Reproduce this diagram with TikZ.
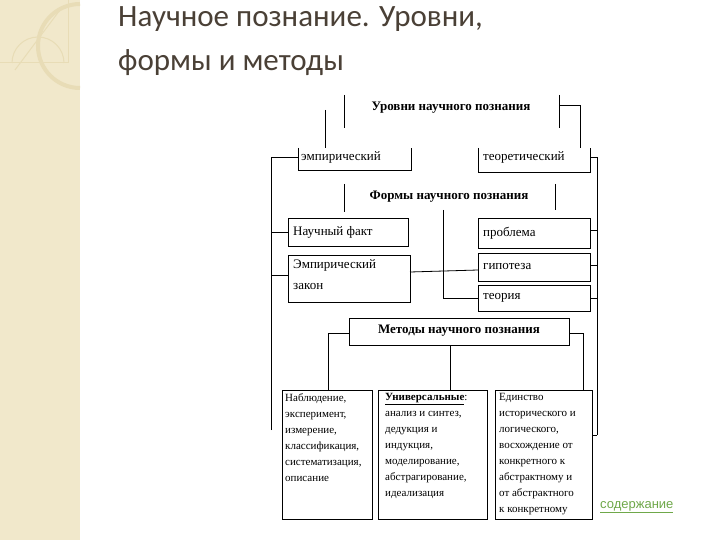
\documentclass[tikz,border=0pt]{standalone}
\usepackage{fontspec}
\setmainfont{Liberation Serif}
\newfontfamily\titlefont{Carlito}
\newfontfamily\linkfont{Liberation Sans}
\definecolor{band}{HTML}{F1E8CB}
\definecolor{bandline}{HTML}{E8DCB6}
\definecolor{titlec}{HTML}{4A4036}
\definecolor{linkc}{HTML}{6FA84A}
\begin{document}
\begin{tikzpicture}[x=1pt,y=-1pt,
  bx/.style={draw,line width=0.8pt,anchor=north west,inner sep=0pt},
  ln/.style={line width=0.8pt},
  txt/.style={font=\fontsize{13}{15}\selectfont,anchor=west,inner sep=0pt},
  btxt/.style={font=\fontsize{13}{15}\selectfont\bfseries,anchor=center,inner sep=0pt},
  small/.style={font=\fontsize{11}{16}\selectfont,anchor=north west,align=left,inner sep=0pt}]
\useasboundingbox (0,0) rectangle (720,540);
\fill[white] (0,0) rectangle (720,540);
\fill[band] (0,0) rectangle (80,540);
\draw[bandline,line width=1pt] (0,63) -- (68,63) -- (68,0);
\draw[bandline,line width=1pt] (12,63) arc[start angle=180,end angle=360,radius=26] ;
\draw[bandline,line width=4pt] (80,88) arc[start angle=90,end angle=270,radius=42];
\draw[bandline,line width=1pt] (15,70) -- (60,10);
% title
\node[font=\titlefont\fontsize{31}{44}\selectfont,text=titlec,anchor=north west,align=left,inner sep=0pt] (title) at (118,6) {Научное познание. Уровни,\\формы и методы};
% headings
\node[btxt] (lev) at (451,108) {Уровни научного познания};
\draw[ln] (344,95) -- (344,128) (559,95) -- (559,128);
\node[btxt] (form) at (449,197) {Формы научного познания};
\draw[ln] (344,184) -- (344,212) (555,184) -- (555,210);
% level boxes
\draw[ln] (298,148) -- (298,170) -- (411,170) -- (411,148);
\node[txt] (emp) at (301,157) {эмпирический};
\draw[ln] (478,148) -- (478,172) -- (590,172) -- (590,148);
\node[txt] (teo) at (483,157) {теоретический};
% forms boxes
\node[bx,minimum width=120,minimum height=28] (fact) at (288,218) {};
\node[txt] at (293,232) {Научный факт};
\node[bx,minimum width=122,minimum height=47] (law) at (288,255) {};
\node[small,font=\fontsize{13}{21}\selectfont] at (293,259) {Эмпирический\\закон};
\node[bx,minimum width=112,minimum height=30] (prob) at (478,218) {};
\node[txt] at (483,233) {проблема};
\node[bx,minimum width=112,minimum height=28] (hyp) at (478,253) {};
\node[txt] at (483,266) {гипотеза};
\node[bx,minimum width=112,minimum height=26] (theo) at (478,285) {};
\node[txt] at (483,298) {теория};
% connectors
\draw[ln] (325,110) -- (325,148);
\draw[ln] (559,105) -- (580,105) -- (580,148);
\draw[ln] (271,430) -- (271,157) -- (298,157);
\draw[ln] (271,232) -- (288,232) (271,275) -- (288,275);
\draw[ln] (590,157) -- (597,157) -- (597,435);
\draw[ln] (590,230) -- (597,230) (590,265) -- (597,265) (590,298) -- (597,298);
\draw[ln] (410,272) -- (478,270);
\draw[ln] (443,210) -- (443,298) -- (478,298);
% methods
\node[bx,minimum width=220,minimum height=27] (meth) at (349,318) {};
\node[btxt] at (459,331) {Методы научного познания};
\draw[ln] (349,333) -- (328,333) -- (328,390);
\draw[ln] (450,345) -- (450,390);
\draw[ln] (569,333) -- (583,333) -- (583,390);
\node[bx,minimum width=90,minimum height=129] (m1) at (282,390) {};
\node[small] at (285,393) {Наблюдение,\\эксперимент,\\измерение,\\классификация,\\систематизация,\\описание};
\node[bx,minimum width=109,minimum height=129] (m2) at (378,390) {};
\node[small] at (385,393) {\underline{\bfseries Универсальные}:\\анализ и синтез,\\дедукция и\\индукция,\\моделирование,\\абстрагирование,\\идеализация};
\node[bx,minimum width=97,minimum height=129] (m3) at (495,390) {};
\node[small] at (499,393) {Единство\\исторического и\\логического,\\восхождение от\\конкретного к\\абстрактному и\\от абстрактного\\к конкретному};
\draw[ln] (592,435) -- (597,435);
\node[font=\linkfont\fontsize{13}{15}\selectfont,text=linkc,anchor=west,inner sep=0pt] (link) at (600,507) {\underline{содержание}};
\end{tikzpicture}
\end{document}
